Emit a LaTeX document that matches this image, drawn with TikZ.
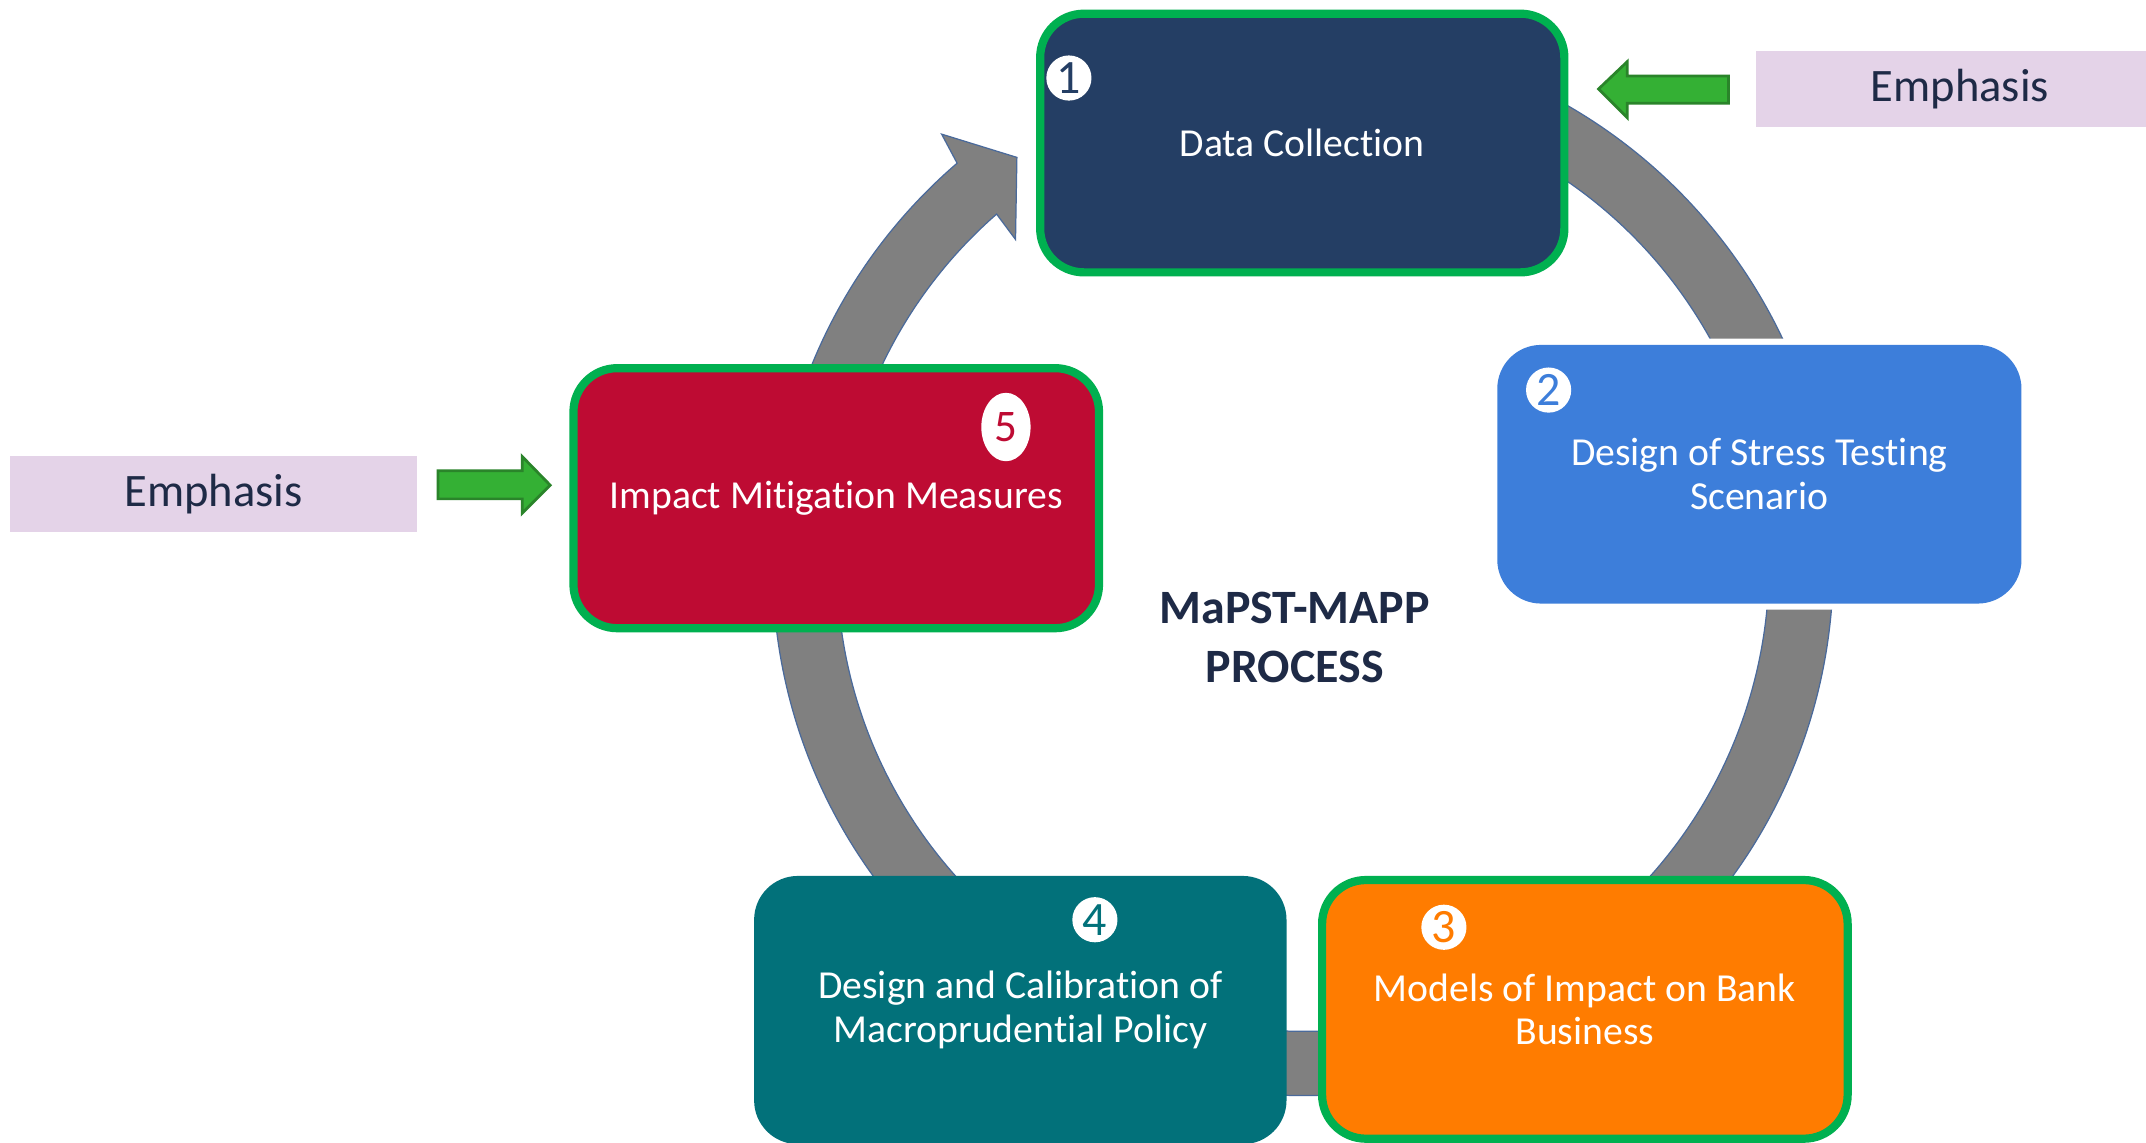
\documentclass[tikz,border=0pt]{standalone}
\usepackage{fontspec}
\setmainfont{Carlito}[Ligatures=NoCommon]
\usetikzlibrary{shapes.geometric}

\definecolor{navybox}{HTML}{243E64}
\definecolor{bluebox}{HTML}{3D7EDA}
\definecolor{orangebox}{HTML}{FF7C00}
\definecolor{tealbox}{HTML}{02717A}
\definecolor{redbox}{HTML}{BE0B33}
\definecolor{frame}{HTML}{00B050}
\definecolor{emphfill}{HTML}{E4D3E8}
\definecolor{darktext}{HTML}{1E2A46}
\definecolor{ringgray}{HTML}{808080}
\definecolor{ringedge}{HTML}{4A6A9B}
\definecolor{arrowfill}{HTML}{34B034}
\definecolor{arrowedge}{HTML}{2A842A}

\begin{document}
\begin{tikzpicture}[x=1pt,y=-1pt,
  stepbox/.style={rectangle, rounded corners=32pt, inner sep=0pt, align=center,
    text=white, font=\fontsize{29}{32}\selectfont},
  framed/.style={draw=frame, line width=6pt},
  numdot/.style={circle, fill=white, inner sep=0pt, minimum size=33pt,
    font=\fontsize{35}{35}\selectfont},
  emphbox/.style={rectangle, fill=emphfill, inner sep=0pt, minimum width=298pt,
    minimum height=56pt, text=darktext, font=\fontsize{34}{34}\selectfont},
  ringband/.style={fill=ringgray, draw=ringedge, line width=0.9pt, line join=miter},
  greenarrow/.style={fill=arrowfill, draw=arrowedge, line width=2pt, line join=miter}
]
\useasboundingbox (0,0) rectangle (1568,835);
\fill[white] (0,0) rectangle (1568,835);

% circular process band, ending in an arrow head beside the first step
\filldraw[ringband]
  ([shift={(952,413)}]-130.7:387.5) arc[start angle=-130.7, end angle=-478, radius=387.5]
  -- ([shift={(952,413)}]-478:340.5) arc[start angle=-478, end angle=-131.1, radius=340.5]
  -- (742,175) -- (743,115) -- (688,98) -- cycle;

% white margin around step 2
\fill[white, rounded corners=35pt] (1089.5,247.5) rectangle (1481.5,445.5);

% process steps
\node[stepbox, framed, fill=navybox, minimum width=383pt, minimum height=189pt]
  (s1) at (951.5,104.5) {Data Collection};
\node[stepbox, fill=bluebox, minimum width=383pt, minimum height=189pt]
  (s2) at (1285.5,346.5) {Design of Stress Testing\\Scenario};
\node[stepbox, framed, fill=orangebox, minimum width=384pt, minimum height=189pt]
  (s3) at (1158,737.5) {Models of Impact on Bank\\Business};
\node[stepbox, fill=tealbox, minimum width=389pt, minimum height=196pt]
  (s4) at (745.5,738) {Design and Calibration of\\Macroprudential Policy};
\node[stepbox, framed, fill=redbox, minimum width=384pt, minimum height=190pt]
  (s5) at (611,364) {Impact Mitigation Measures};

% step numbers
\node[numdot, text=navybox] (n1) at (781,57) {1};
\node[numdot, text=bluebox] (n2) at (1131.5,285) {2};
\node[numdot, text=orangebox] (n3) at (1055,677.5) {3};
\node[numdot, text=tealbox] (n4) at (800,672) {4};
\node[ellipse, fill=white, inner sep=0pt, minimum width=36pt, minimum height=50pt,
  text=redbox, font=\fontsize{33}{33}\selectfont] (n5) at (735,312) {5};

% centre title
\node[align=center, text=darktext, font=\fontsize{35}{43}\selectfont\bfseries]
  (title) at (946,465.5) {MaPST-MAPP\\PROCESS};

% emphasis labels
\node[emphbox] (e1) at (1432,65) {Emphasis};
\node[emphbox] (e5) at (156,361) {Emphasis};

% emphasis arrows
\filldraw[greenarrow] (1263,55.5) -- (1189,55.5) -- (1189,45) -- (1168,65)
  -- (1189,86) -- (1189,75.5) -- (1263,75.5) -- cycle;
\filldraw[greenarrow] (320,344) -- (381.5,344) -- (381.5,333.5) -- (402,354.5)
  -- (381.5,375) -- (381.5,364.5) -- (320,364.5) -- cycle;
\end{tikzpicture}
\end{document}
